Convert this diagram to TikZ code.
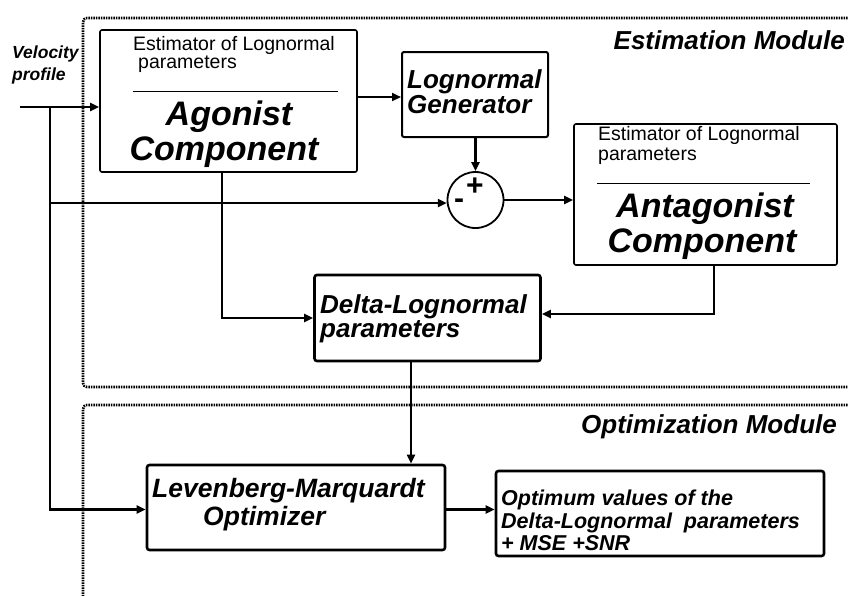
\documentclass[tikz,border=0pt]{standalone}
\usepackage{fontspec}
\setmainfont{Liberation Sans}
\usetikzlibrary{arrows.meta}

\begin{document}
\begin{tikzpicture}[x=1pt,y=-1pt,
  box/.style={draw, rounded corners=2pt, line width=1.6pt, inner sep=0pt},
  boldbox/.style={draw, rounded corners=2.5pt, line width=2.6pt, inner sep=0pt},
  big/.style={inner sep=0pt, font=\fontsize{34}{35}\selectfont\bfseries\itshape},
  mid/.style={inner sep=0pt, font=\fontsize{26}{27}\selectfont\bfseries\itshape},
  lmtxt/.style={inner sep=0pt, font=\fontsize{26.5}{27}\selectfont\bfseries\itshape},
  outtxt/.style={inner sep=0pt, font=\fontsize{21.5}{23}\selectfont\bfseries\itshape},
  small/.style={inner sep=0pt, font=\fontsize{19.5}{20}\selectfont},
  vel/.style={inner sep=0pt, font=\fontsize{17.5}{18}\selectfont\bfseries\itshape},
  rule/.style={line width=0.9pt},
  wire/.style={line width=2.2pt},
  arr/.style={wire, -{Triangle[length=9pt,width=8pt]}},
  module/.style={line width=2.6pt, dash pattern=on 1.5pt off 1pt, rounded corners=4pt},
]
\useasboundingbox (0,0) rectangle (848,595);

% module frames (open on the right)
\draw[module] (860,18) -- (83,18) -- (83,387) -- (860,387);
\draw[module] (860,405) -- (83,405) -- (83,610);
\node[mid, anchor=base east] (estLbl) at (845,49) {Estimation Module};
\node[mid, anchor=base east] (optLbl) at (837,433) {Optimization Module};

% input label
\node[vel, anchor=base west] (vel1) at (12,58) {Velocity};
\node[vel, anchor=base west] (vel2) at (12,80.5) {profile};

% agonist estimator
\node[box, minimum width=257pt, minimum height=142pt] (ago) at (228.5,101) {};
\node[small, anchor=base west] (agoE1) at (133,50) {Estimator of Lognormal};
\node[small, anchor=base west] (agoE2) at (138,68) {parameters};
\draw[rule] (133,91) -- (338,91);
\node[big, anchor=base] (agoT1) at (229,125) {Agonist};
\node[big, anchor=base] (agoT2) at (224,160) {Component};

% lognormal generator
\node[box, line width=2pt, minimum width=146pt, minimum height=85pt] (gen) at (475,94.5) {};
\node[mid, anchor=base west] (gen1) at (407,88) {Lognormal};
\node[mid, anchor=base west] (gen2) at (407,113) {Generator};

% summing junction
\node[draw, circle, line width=1.8pt, minimum size=56pt, inner sep=0pt] (sum) at (475.5,200) {};
\node[inner sep=0pt, font=\fontsize{30}{30}\selectfont\bfseries] (plus) at (475,187) {+};
\node[inner sep=0pt, font=\fontsize{30}{30}\selectfont\bfseries] (minus) at (459,204) {-};

% antagonist estimator
\node[box, minimum width=263pt, minimum height=141pt] (ant) at (705.5,194.5) {};
\node[small, anchor=base west] (antE1) at (598,140) {Estimator of Lognormal};
\node[small, anchor=base west] (antE2) at (598,160) {parameters};
\draw[rule] (597,183) -- (810,183);
\node[big, anchor=base] (antT1) at (705,217) {Antagonist};
\node[big, anchor=base] (antT2) at (702,252) {Component};

% delta-lognormal parameters
\node[boldbox, minimum width=226pt, minimum height=86pt] (del) at (427.5,318) {};
\node[mid, anchor=base west] (del1) at (320,313) {Delta-Lognormal};
\node[mid, anchor=base west] (del2) at (320,337) {parameters};

% optimizer
\node[boldbox, minimum width=298pt, minimum height=85pt] (lm) at (296,507.5) {};
\node[lmtxt, anchor=base west] (lm1) at (152,497) {Levenberg-Marquardt};
\node[lmtxt, anchor=base west] (lm2) at (203,525) {Optimizer};

% output
\node[boldbox, minimum width=328pt, minimum height=85pt] (out) at (660,513.5) {};
\node[outtxt, anchor=base west] (out1) at (501,505) {Optimum values of the};
\node[outtxt, anchor=base west] (out2) at (501,528) {Delta-Lognormal\ \ parameters};
\node[outtxt, anchor=base west] (out3) at (501,550) {+ MSE +SNR};

% connectors
\coordinate (vin) at (20,107);
\coordinate (vj) at (50,107);
\draw[arr] (vin) -- (vin -| ago.west);
\draw[arr] (vj) |- ([yshift=-2pt]lm.west);
\draw[arr] (vj |- sum.186) -- (sum.186);
\path ([yshift=-2.5pt]gen.west) coordinate (g1);
\draw[arr] (ago.east |- g1) -- (g1);
\draw[arr] (gen.south -| sum.north) -- (sum.north);
\draw[arr] (sum.east) -- (sum.east -| ant.west);
\path ([xshift=-6.5pt]ago.south) coordinate (a1);
\draw[arr] (a1) |- (del.west);
\path ([xshift=8.5pt]ant.south) coordinate (b1);
\draw[arr] (b1) |- ([yshift=4pt]del.east);
\path ([xshift=-16.5pt]del.south) coordinate (c1);
\draw[arr] (c1) -- (c1 |- lm.north);
\draw[arr] ([yshift=-2pt]lm.east) -- ([yshift=-2pt]lm.east -| out.west);
\end{tikzpicture}
\end{document}
